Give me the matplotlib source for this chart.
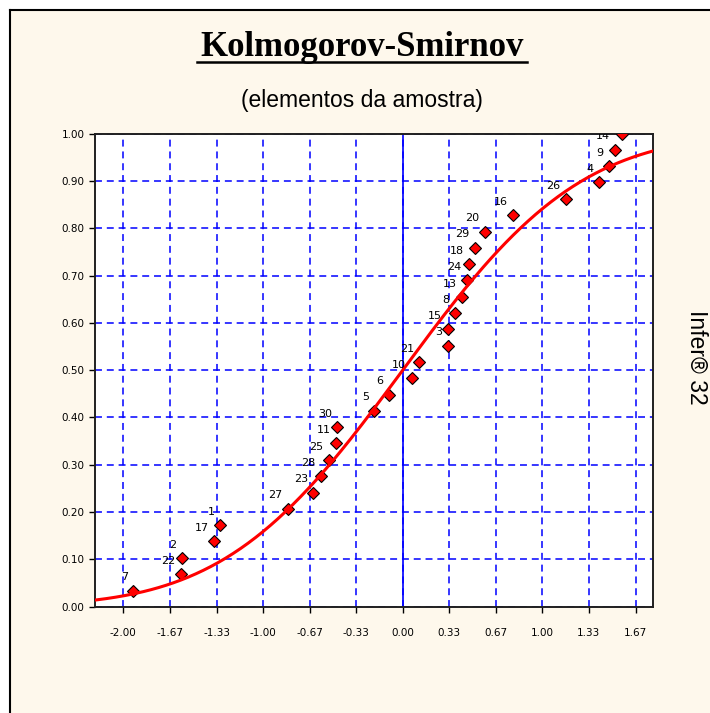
import math

import matplotlib
matplotlib.use('Agg')
import matplotlib.pyplot as plt
from matplotlib.lines import Line2D
from matplotlib.patches import Rectangle

# standardized sample values (z) and their empirical cumulative frequency
z_values = [-1.928, -1.589, -1.578, -1.349, -1.308, -0.819, -0.640, -0.583,
            -0.528, -0.477, -0.467, -0.202, -0.100, 0.064, 0.119, 0.322,
            0.322, 0.374, 0.424, 0.460, 0.478, 0.514, 0.589, 0.792,
            1.167, 1.407, 1.479, 1.520, 1.568]
freq_values = [0.034, 0.069, 0.103, 0.138, 0.172, 0.207, 0.241, 0.276,
               0.310, 0.345, 0.379, 0.414, 0.448, 0.483, 0.517, 0.552,
               0.586, 0.621, 0.655, 0.690, 0.724, 0.759, 0.793, 0.828,
               0.862, 0.897, 0.931, 0.966, 1.000]
point_labels = ['7', '22', '2', '17', '1', '27', '23', '28', '25', '11',
                '30', '5', '6', '10', '21', '3', '15', '8', '13', '24',
                '18', '29', '20', '16', '26', '4', '9', '14', '12']

x_tick_values = [-2.0, -1.667, -1.333, -1.0, -0.667, -0.333,
                 0.0, 0.333, 0.667, 1.0, 1.333, 1.667]
x_tick_labels = ['-2.00', '-1.67', '-1.33', '-1.00', '-0.67', '-0.33',
                 '0.00', '0.33', '0.67', '1.00', '1.33', '1.67']
y_tick_values = [0.0, 0.1, 0.2, 0.3, 0.4, 0.5, 0.6, 0.7, 0.8, 0.9, 1.0]
y_tick_labels = ['0.00', '0.10', '0.20', '0.30', '0.40', '0.50',
                 '0.60', '0.70', '0.80', '0.90', '1.00']

W, H = 710, 713
BG = '#fef8ec'
plt.rcParams['lines.scale_dashes'] = False

fig = plt.figure(figsize=(W / 100, H / 100), dpi=100, facecolor='white')


def fx(px):
    return px / W


def fy(py):
    return 1 - py / H


# cream panel with black frame on left/top
fig.add_artist(Rectangle((fx(10), 0), 1 - fx(10), fy(10), transform=fig.transFigure,
                         facecolor=BG, edgecolor='none', zorder=0))
fig.add_artist(Line2D([fx(10), fx(10)], [0, fy(10)], transform=fig.transFigure,
                      color='black', lw=1.5))
fig.add_artist(Line2D([fx(10), 1], [fy(10), fy(10)], transform=fig.transFigure,
                      color='black', lw=1.5))

ax = fig.add_axes([fx(95), fy(606.6), fx(653.3) - fx(95), fy(133.7) - fy(606.6)])
ax.set_facecolor('white')
xmin, xmax = -2.203, 1.794
ax.set_xlim(xmin, xmax)
ax.set_ylim(0, 1)

ax.set_xticks(x_tick_values)
ax.set_xticklabels(x_tick_labels)
ax.set_yticks(y_tick_values)
ax.set_yticklabels(y_tick_labels)
ax.tick_params(direction='out', length=4.5, width=1, labelsize=7.5, colors='black')
ax.tick_params(axis='x', pad=11)
ax.tick_params(axis='y', pad=3)
for s in ax.spines.values():
    s.set_linewidth(1.4)
    s.set_color('#202020')

ax.grid(True, color='#0000ff', linestyle=(0, (5, 3.5)), linewidth=1.1)
ax.set_axisbelow(True)
ax.axvline(0, color='#0000ff', lw=1.2, zorder=1)

# theoretical normal cdf
n = 300
xs = [xmin + (xmax - xmin) * i / (n - 1) for i in range(n)]
cdf = [0.5 * (1 + math.erf(x / math.sqrt(2))) for x in xs]

ax.plot(z_values, freq_values, linestyle='none', marker='D', markersize=6.5,
        markerfacecolor='#ff0000', markeredgecolor='black', markeredgewidth=0.8,
        zorder=3)
ax.plot(xs, cdf, color='#ff0000', lw=2.2, zorder=4)

for x, y, lab in zip(z_values, freq_values, point_labels):
    ax.annotate(lab, (x, y), xytext=(-4, 6), textcoords='offset points',
                ha='right', va='bottom', fontsize=8, color='black',
                annotation_clip=False, clip_on=True, zorder=5)

fig.text(fx(362), fy(56), 'Kolmogorov-Smirnov', ha='center', va='baseline',
         fontsize=25, fontweight='bold', family='Liberation Serif')
fig.add_artist(Line2D([fx(197), fx(527)], [fy(62), fy(62)],
                      transform=fig.transFigure, color='black', lw=1.8))
fig.text(fx(362), fy(100), '(elementos da amostra)', ha='center', va='center',
         fontsize=16.5, family='Liberation Sans')
fig.text(fx(697), fy(357), 'Infer\u00ae 32', ha='center', va='center',
         rotation=-90, fontsize=16.5, family='Liberation Sans')

fig.savefig('out.png', dpi=100, facecolor=fig.get_facecolor())
